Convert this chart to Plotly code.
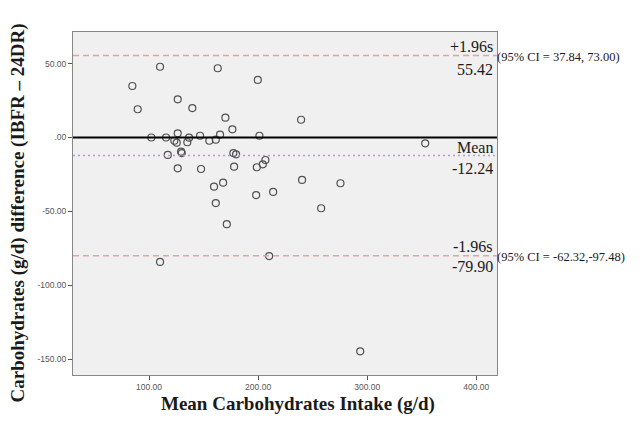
import plotly.graph_objects as go

# Bland-Altman data: mean carbohydrate intake (g/d) vs difference (IBFR - 24DR)
mean_intake = [84.7, 89.6, 110.1, 102.1, 115.6, 117.2, 126.3, 126.3, 123.2, 125.4,
               129.4, 130.0, 126.3, 135.1, 136.7, 139.7, 146.8, 147.7, 155.3, 161.2,
               163.0, 165.1, 170.0, 176.4, 177.3, 179.8, 178.0, 159.6, 167.9, 161.2,
               171.3, 199.7, 201.2, 198.8, 204.3, 206.7, 198.2, 213.8, 239.4, 240.3,
               275.5, 257.8, 110.1, 210.1, 293.6, 353.2]
difference = [34.8, 19.1, 47.8, 0.0, 0.0, -11.8, 25.8, 2.8, -2.2, -3.5,
              -9.6, -10.5, -20.8, -3.2, -0.1, 19.9, 1.2, -21.3, -2.2, -1.5,
              46.8, 1.9, 13.4, 5.5, -10.5, -11.4, -19.7, -33.2, -30.5, -44.3,
              -58.6, 38.9, 1.2, -20.1, -18.1, -15.2, -38.9, -36.8, 12.0, -28.7,
              -30.9, -47.8, -84.1, -80.1, -144.5, -3.9]

mean_diff = -12.24
upper_loa = 55.42
lower_loa = -79.90
upper_ci = "(95% CI = 37.84, 73.00)"
lower_ci = "(95% CI = -62.32,-97.48)"

x_tickvals = [100, 200, 300, 400]
x_ticktext = ["100.00", "200.00", "300.00", "400.00"]
y_tickvals = [50, 0, -50, -100, -150]
y_ticktext = ["50.00", ".00", "-50.00", "-100.00", "-150.00"]

serif = "Liberation Serif, Times New Roman, serif"
sans = "Liberation Sans, Arial, sans-serif"

fig = go.Figure()
fig.add_trace(go.Scatter(
    x=mean_intake, y=difference, mode="markers",
    marker=dict(symbol="circle-open", size=7, color="#505050", line=dict(width=1.2)),
    showlegend=False, hoverinfo="x+y"))

# reference lines
fig.add_shape(type="line", xref="paper", x0=0, x1=1, yref="y", y0=0, y1=0,
              line=dict(color="black", width=2))
for val in (upper_loa, lower_loa):
    fig.add_shape(type="line", xref="paper", x0=0, x1=1, yref="y", y0=val, y1=val,
                  line=dict(color="#e8a0a0", width=1.3, dash="6px,4px"))
fig.add_shape(type="line", xref="paper", x0=0, x1=1, yref="y", y0=mean_diff, y1=mean_diff,
              line=dict(color="#b0a0cc", width=1.5, dash="2px,3px"))

labels = [
    (upper_loa, "+1.96s", 9), (upper_loa, f"{upper_loa:.2f}", -14),
    (mean_diff, "Mean", 8), (mean_diff, f"{mean_diff:.2f}", -13),
    (lower_loa, "-1.96s", 9), (lower_loa, f"{lower_loa:.2f}", -11),
]
for yv, txt, ys in labels:
    fig.add_annotation(xref="paper", x=1, yref="y", y=yv, text=txt, showarrow=False,
                       xanchor="right", yanchor="middle", xshift=-2, yshift=ys,
                       font=dict(family=serif, size=16, color="#1a1a1a"))
for yv, txt in ((upper_loa, upper_ci), (lower_loa, lower_ci)):
    fig.add_annotation(xref="paper", x=1, yref="y", y=yv, text=txt, showarrow=False,
                       xanchor="left", yanchor="middle", xshift=-2, yshift=-1,
                       font=dict(family=serif, size=12.5, color="#1a1a1a"))

# axis titles
fig.add_annotation(xref="paper", yref="paper", x=0.5, y=0, xshift=13, yshift=-29,
                   text="<b>Mean Carbohydrates Intake (g/d)</b>", showarrow=False,
                   xanchor="center", yanchor="middle",
                   font=dict(family=serif, size=19, color="#1a1a1a"))
fig.add_annotation(xref="paper", yref="paper", x=0, y=0.5, xshift=-56, yshift=-10,
                   text="<b>Carbohydrates (g/d) difference (IBFR – 24DR)</b>", showarrow=False,
                   textangle=-90, xanchor="center", yanchor="middle",
                   font=dict(family=serif, size=19, color="#1a1a1a"))

# the page body adds an 8px offset; figure is sized to fit inside the body
fig.update_layout(
    width=624, height=409,
    margin=dict(l=65, r=135, t=24, b=42),
    paper_bgcolor="white", plot_bgcolor="#f0f0f0",
    xaxis=dict(range=[30.3, 419], tickvals=x_tickvals, ticktext=x_ticktext,
               showgrid=False, zeroline=False, showline=True, linecolor="#888888",
               linewidth=1, mirror=True, ticks="outside", ticklen=4, tickcolor="#555555",
               tickfont=dict(family=sans, size=8.5, color="#555555")),
    yaxis=dict(range=[-160.5, 71.3], tickvals=y_tickvals, ticktext=y_ticktext,
               showgrid=False, zeroline=False, showline=True, linecolor="#888888",
               linewidth=1, mirror=True, ticks="outside", ticklen=4, tickcolor="#555555",
               tickfont=dict(family=sans, size=8.5, color="#555555")),
)

fig.write_html("out.html")
